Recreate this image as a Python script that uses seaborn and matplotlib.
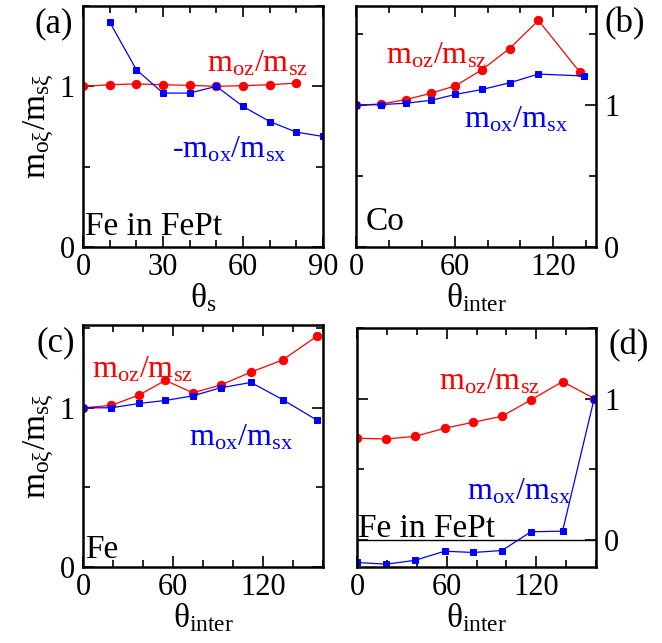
import seaborn as sns
import matplotlib.pyplot as plt
from matplotlib.ticker import MultipleLocator

# panel (a): Fe in FePt vs theta_s
a_x_z = [0, 10, 20, 30, 40, 50, 60, 70, 80]
a_oz = [1.0, 1.01, 1.015, 1.01, 1.006, 1.0, 1.004, 1.01, 1.02]
a_x_x = [10, 20, 30, 40, 50, 60, 70, 80, 90]
a_ox = [1.40, 1.104, 0.958, 0.958, 1.0, 0.875, 0.781, 0.715, 0.688]

# panel (b): Co vs theta_inter
b_x_z = [0, 15.4, 30.4, 45.8, 60.4, 76.6, 93.4, 111, 136]
b_oz = [1.0, 1.009, 1.04, 1.085, 1.137, 1.25, 1.40, 1.598, 1.236]
b_x_x = [0, 15.4, 30.4, 45.8, 60.4, 76.6, 93.4, 111, 139]
b_ox = [1.0, 1.005, 1.014, 1.035, 1.076, 1.111, 1.158, 1.22, 1.206]

# panel (c): Fe vs theta_inter
c_x = [0, 18.9, 37.3, 54.9, 73.3, 91.8, 112, 133, 156]
c_oz = [1.0, 1.015, 1.08, 1.172, 1.094, 1.143, 1.224, 1.30, 1.45]
c_ox = [1.0, 1.0, 1.027, 1.046, 1.075, 1.126, 1.159, 1.052, 0.922]

# panel (d): Fe in FePt vs theta_inter
d_x = [0, 19.7, 39.1, 58.6, 77.9, 97, 116.5, 137.6, 158.8]
d_oz = [0.718, 0.713, 0.732, 0.789, 0.832, 0.874, 0.99, 1.12, 1.0]
d_ox = [-0.163, -0.175, -0.147, -0.083, -0.092, -0.078, 0.055, 0.059, 1.0]

sns.set_theme(style="ticks")
plt.rcParams["font.family"] = ["Liberation Serif", "DejaVu Serif"]
plt.rcParams["mathtext.fontset"] = "custom"
plt.rcParams["mathtext.rm"] = "Liberation Serif"
plt.rcParams["mathtext.it"] = "Liberation Serif:italic"
for k in ["text.color", "axes.labelcolor", "xtick.color", "ytick.color", "axes.edgecolor"]:
    plt.rcParams[k] = "black"

W, H = 662, 643
fig = plt.figure(figsize=(W / 100, H / 100), dpi=100)


def box(l, t, r, b):
    return [l / W, 1 - b / H, (r - l) / W, (b - t) / H]


def ftext(x, y, s, size, **kw):
    fig.text(x / W, 1 - y / H, s, fontsize=size, **kw)


TICK = 22
LAB = 24
MATH = 23
PLAIN = 24
TAG = 25

RED = "#ff0000"
BLUE = "#0000ff"


def style(ax, xlim, ylim, xmaj, xmin, right=False):
    ax.set_xlim(*xlim)
    ax.set_ylim(*ylim)
    ax.xaxis.set_major_locator(MultipleLocator(xmaj))
    ax.xaxis.set_minor_locator(MultipleLocator(xmin))
    ax.yaxis.set_major_locator(MultipleLocator(1))
    ax.yaxis.set_minor_locator(MultipleLocator(0.5))
    ax.tick_params(which="both", direction="in", top=True, bottom=True,
                   left=True, right=True, width=1.2, colors="black",
                   labelsize=TICK)
    ax.tick_params(axis="x", pad=4)
    ax.tick_params(axis="y", pad=6)
    ax.tick_params(which="major", length=8)
    ax.tick_params(which="minor", length=5)
    if right:
        ax.tick_params(labelleft=False, labelright=True)
    for s in ax.spines.values():
        s.set_linewidth(1.8)
        s.set_color("black")
    ax.set_xlabel("")
    ax.set_ylabel("")


def series(ax, x, y, color, marker, ms):
    sns.lineplot(x=x, y=y, ax=ax, color=color, marker=marker, markersize=ms,
                 markeredgecolor=color, linewidth=0.9, sort=False)


ylab = r"$\mathrm{m_{o\xi}/m_{s\xi}}$"
oz = r"$\mathrm{m_{oz}/m_{sz}}$"
ox = r"$\mathrm{m_{ox}/m_{sx}}$"

# (a)
ax = fig.add_axes(box(83, 6, 323, 247))
series(ax, a_x_z, a_oz, RED, "o", 6)
series(ax, a_x_x, a_ox, BLUE, "s", 5)
style(ax, (0, 90), (0, 1.5), 30, 10)
ax.set_ylabel(ylab, fontsize=LAB, labelpad=2)
ax.set_xlabel(r"$\mathrm{θ_s}$", fontsize=LAB, labelpad=0)
ftext(207, 72, oz, MATH, color=RED, va="baseline")
ftext(172, 157, "-" + ox, MATH, color=BLUE, va="baseline")
ftext(85, 235, "Fe in FePt", PLAIN, va="baseline")
ftext(35, 7, "(a)", TAG, va="top")

# (b)
ax = fig.add_axes(box(356, 6, 596, 247))
series(ax, b_x_z, b_oz, RED, "o", 6)
series(ax, b_x_x, b_ox, BLUE, "s", 5)
style(ax, (0, 146), (0, 1.7), 60, 20, right=True)
ax.set_xlabel(r"$\mathrm{θ_{inter}}$", fontsize=LAB, labelpad=0)
ftext(386, 63, oz, MATH, color=RED, va="baseline")
ftext(464, 128, ox, MATH, color=BLUE, va="baseline")
ftext(366, 230, "Co", PLAIN, va="baseline")
ftext(605, 7, "(b)", TAG, va="top")

# (c)
ax = fig.add_axes(box(83, 325, 323, 567))
series(ax, c_x, c_oz, RED, "o", 6)
series(ax, c_x, c_ox, BLUE, "s", 5)
style(ax, (0, 160), (0, 1.52), 60, 20)
ax.set_ylabel(ylab, fontsize=LAB, labelpad=2)
ax.set_xlabel(r"$\mathrm{θ_{inter}}$", fontsize=LAB, labelpad=0)
ftext(92, 377, oz, MATH, color=RED, va="baseline")
ftext(189, 445, ox, MATH, color=BLUE, va="baseline")
ftext(85, 558, "Fe", PLAIN, va="baseline")
ftext(36, 326, "(c)", TAG, va="top")

# (d)
ax = fig.add_axes(box(357, 328, 596, 567))
ax.axhline(0, color="black", linewidth=1.0)
series(ax, d_x, d_oz, RED, "o", 6)
series(ax, d_x, d_ox, BLUE, "s", 5)
style(ax, (0, 160), (-0.195, 1.5), 60, 20, right=True)
ax.set_xlabel(r"$\mathrm{θ_{inter}}$", fontsize=LAB, labelpad=0)
ftext(439, 390, oz, MATH, color=RED, va="baseline")
ftext(467, 500, ox, MATH, color=BLUE, va="baseline")
ftext(358, 537, "Fe in FePt", PLAIN, va="baseline")
ftext(609, 329, "(d)", TAG, va="top")

plt.savefig("out.png", dpi=100)
